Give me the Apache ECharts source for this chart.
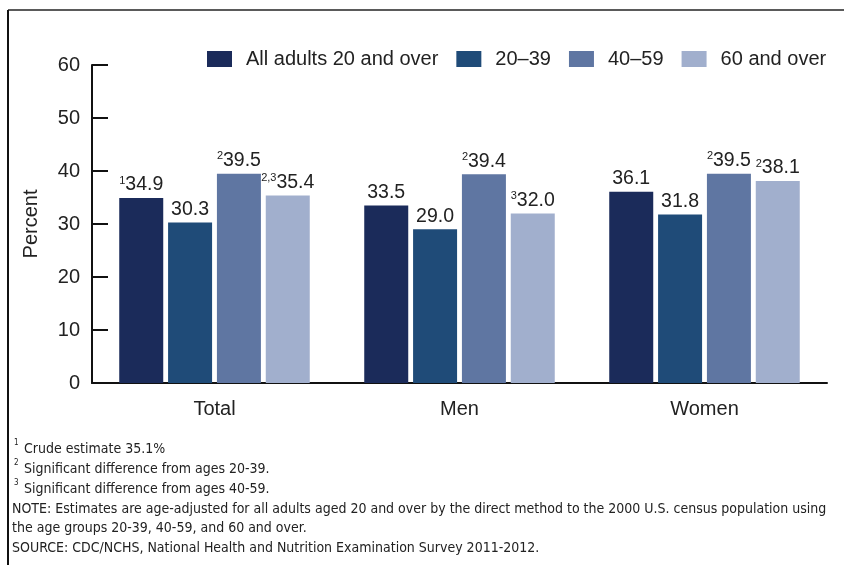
<!DOCTYPE html>
<html><head><meta charset="utf-8">
<script src="https://cdn.jsdelivr.net/npm/echarts@6/dist/echarts.min.js"></script>
<style>html,body{margin:0;padding:0;background:#fff}#c{width:844px;height:565px}</style>
</head><body><div id="c"></div>
<script>
const categories = ['Total', 'Men', 'Women'];
const seriesNames = ['All adults 20 and over', '20\u201339', '40\u201359', '60 and over'];
const allAdults = [34.9, 33.5, 36.1];
const age20to39 = [30.3, 29.0, 31.8];
const age40to59 = [39.5, 39.4, 39.5];
const age60plus = [35.4, 32.0, 38.1];
const supAll = ['1', '', ''];
const sup20 = ['', '', ''];
const sup40 = ['2', '2', '2'];
const sup60 = ['2,3', '3', '2'];
const yTicks = [0, 10, 20, 30, 40, 50, 60];
const footnotes = [
  ['1', 'Crude estimate 35.1%'],
  ['2', 'Significant difference from ages 20-39.'],
  ['3', 'Significant difference from ages 40-59.'],
  ['', 'NOTE: Estimates are age-adjusted for all adults aged 20 and over by the direct method to the 2000 U.S. census population using'],
  ['', 'the age groups 20-39, 40-59, and 60 and over.'],
  ['', 'SOURCE: CDC/NCHS, National Health and Nutrition Examination Survey 2011-2012.']
];
const colors = ['#1b2b5a', '#1f4b78', '#5f76a2', '#a1afcd'];
const values = [allAdults, age20to39, age40to59, age60plus];
const sups = [supAll, sup20, sup40, sup60];

const chart = echarts.init(document.getElementById('c'));
const series = values.map((vals, si) => ({
  name: seriesNames[si],
  type: 'bar',
  barWidth: 44,
  barGap: '11%',
  itemStyle: { color: colors[si] },
  data: vals.map((v, i) => ({ value: v, sup: sups[si][i] })),
  label: {
    show: true,
    position: 'top',
    distance: 3,
    formatter: p => (p.data.sup ? '{s|' + p.data.sup + '}' : '') + '{v|' + p.value.toFixed(1) + '}',
    rich: {
      v: { fontSize: 19.5, color: '#222', fontFamily: 'Liberation Sans, Arial, sans-serif' },
      s: { fontSize: 11, color: '#222', fontFamily: 'Liberation Sans, Arial, sans-serif', verticalAlign: 'top', padding: [0, 0, 7, 0] }
    }
  }
}));

const graphics = [
  { type: 'line', shape: { x1: 8, y1: 10, x2: 844, y2: 10 }, style: { stroke: '#5a5a5a', lineWidth: 2 } },
  { type: 'line', shape: { x1: 8, y1: 10, x2: 8, y2: 565 }, style: { stroke: '#111', lineWidth: 2 } }
];
const fnFont = 'Liberation Sans Narrow, DejaVu Sans Condensed, sans-serif';
footnotes.forEach((f, i) => {
  const y = 451 + i * 19.8;
  if (f[0]) {
    graphics.push({ type: 'text', left: 14, top: y - 12, style: { text: f[0], fontSize: 8, fill: '#222', fontFamily: fnFont } });
  }
  graphics.push({ type: 'text', left: f[0] ? 24 : 12, top: y - 8.5, style: { text: f[1], fontSize: 14, fill: '#222', fontFamily: fnFont } });
});

chart.setOption({
  animation: false,
  textStyle: { fontFamily: 'Liberation Sans, Arial, sans-serif' },
  grid: { left: 92, right: 17, top: 65, bottom: 182 },
  legend: {
    data: seriesNames,
    left: 207, top: 49, padding: 0,
    itemWidth: 25, itemHeight: 16, itemGap: 18,
    icon: 'rect',
    textStyle: { fontSize: 20, color: '#222', padding: [0, 0, 0, 9] }
  },
  xAxis: {
    type: 'category', data: categories,
    axisLine: { lineStyle: { color: '#111', width: 2 } },
    axisTick: { show: false },
    axisLabel: { fontSize: 20, color: '#222', margin: 16 }
  },
  yAxis: {
    type: 'value', min: yTicks[0], max: yTicks[yTicks.length - 1], interval: 10,
    name: 'Percent', nameLocation: 'middle', nameGap: 51, nameRotate: 90,
    nameTextStyle: { fontSize: 20, color: '#222' },
    axisLine: { show: true, lineStyle: { color: '#111', width: 2 } },
    axisTick: { show: true, inside: true, length: 16, lineStyle: { color: '#111', width: 2 } },
    axisLabel: { fontSize: 20, color: '#222', margin: 12 },
    splitLine: { show: false }
  },
  series: series,
  graphic: graphics
});
</script></body></html>
